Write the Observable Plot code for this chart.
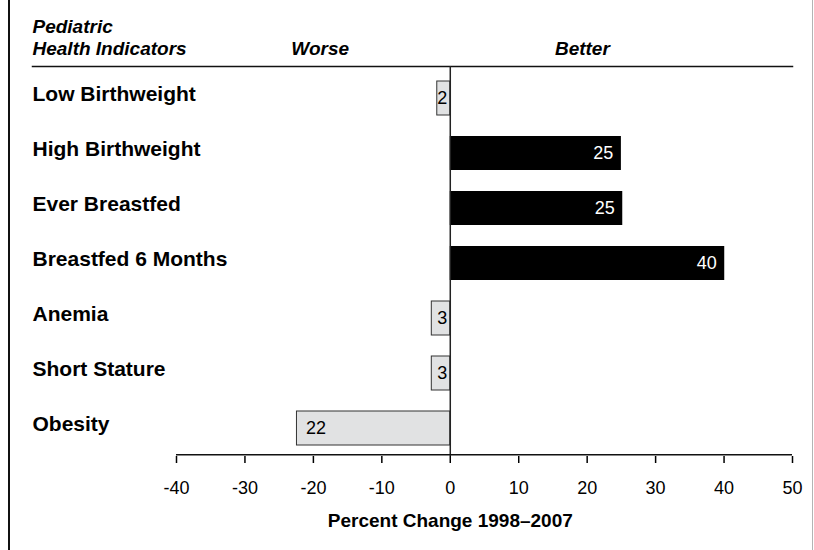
<!DOCTYPE html>
<html><head><meta charset="utf-8">
<script src="https://cdn.jsdelivr.net/npm/d3@7"></script>
<script src="https://cdn.jsdelivr.net/npm/@observablehq/plot@0.6"></script>
<style>
html,body{margin:0;padding:0;background:#fff;}
#wrap{position:relative;width:814px;height:550px;overflow:hidden;}
#wrap svg{position:absolute;left:0;top:0;}
#wrap .bl{position:absolute;left:8px;top:0;width:2px;height:550px;background:#111;}
#wrap .br{position:absolute;left:812px;top:0;width:1px;height:550px;background:#b4b4b4;}
</style></head><body><div id="wrap"><div class="bl"></div><div class="br"></div></div>
<script>
const indicators = ["Low Birthweight","High Birthweight","Ever Breastfed","Breastfed 6 Months","Anemia","Short Stature","Obesity"];
const changes = [-1.9, 25, 25.2, 40.1, -2.7, -2.7, -22.4];
const valueLabels = ["2","25","25","40","3","3","22"];
const xTicks = [-40,-30,-20,-10,0,10,20,30,40,50];
const headerLeft = "Pediatric\nHealth Indicators";
const directions = ["Worse","Better"];
const axisTitle = "Percent Change 1998–2007";

const data = indicators.map((name,i)=>({name, change: changes[i], label: valueLabels[i]}));
const font = "'Liberation Sans',Arial,sans-serif";

const chart = Plot.plot({
  width: 814, height: 550,
  marginTop: 66, marginBottom: 94, marginLeft: 32, marginRight: 22,
  style: {fontFamily: font, background: "transparent", color: "#000"},
  x: {domain: [-40, 50], range: [176, 792]},
  y: {domain: indicators, range: [67, 459], paddingInner: 0.39, paddingOuter: 0.22},
  marks: [
    Plot.frame({anchor: "top", stroke: "#111", strokeWidth: 1.5}),
    Plot.barX(data, {filter: d => d.change < 0, x: "change", y: "name", fill: "#e1e2e3", stroke: "#333", strokeWidth: 1}),
    Plot.barX(data, {filter: d => d.change > 0, x: "change", y: "name", fill: "#000"}),
    Plot.ruleX([0], {stroke: "#222", strokeWidth: 1.5}),
    Plot.ruleY([indicators[indicators.length-1]], {y: d => d, x1: xTicks[0], x2: xTicks[xTicks.length-1], dy: 26.2, stroke: "#111", strokeWidth: 1.5}),
    Plot.axisX({ticks: xTicks, tickSize: 7, tickPadding: 18, fontSize: 18, strokeWidth: 1.5, tickFormat: d => String(d), label: null}),
    Plot.axisY({tickSize: 0, tickPadding: 0, textAnchor: "start", fontSize: 21, fontWeight: "bold", dy: -4, label: null}),
    Plot.text(data, {filter: d => d.change > 0, x: "change", y: "name", text: "label", textAnchor: "end", dx: -8, fill: "#fff", fontSize: 18}),
    Plot.text(data, {filter: d => d.change < 0 && d.change > -5, x: 0, y: "name", text: "label", textAnchor: "end", dx: -3, fill: "#000", fontSize: 18}),
    Plot.text(data, {filter: d => d.change <= -5, x: "change", y: "name", text: "label", textAnchor: "start", dx: 9, fill: "#000", fontSize: 18}),
    Plot.text([headerLeft], {frameAnchor: "top-left", textAnchor: "start", lineAnchor: "bottom", dy: -12, lineHeight: 1.12, fontSize: 19, fontWeight: "bold", fontStyle: "italic"}),
    Plot.text(directions, {x: [-19, 19.3], frameAnchor: "top", lineAnchor: "bottom", dy: -12, fontSize: 19, fontWeight: "bold", fontStyle: "italic"}),
    Plot.text([axisTitle], {x: 0, frameAnchor: "bottom", lineAnchor: "bottom", dy: 70, fontSize: 19, fontWeight: "bold"})
  ]
});
document.getElementById("wrap").appendChild(chart);
</script>
</body></html>
